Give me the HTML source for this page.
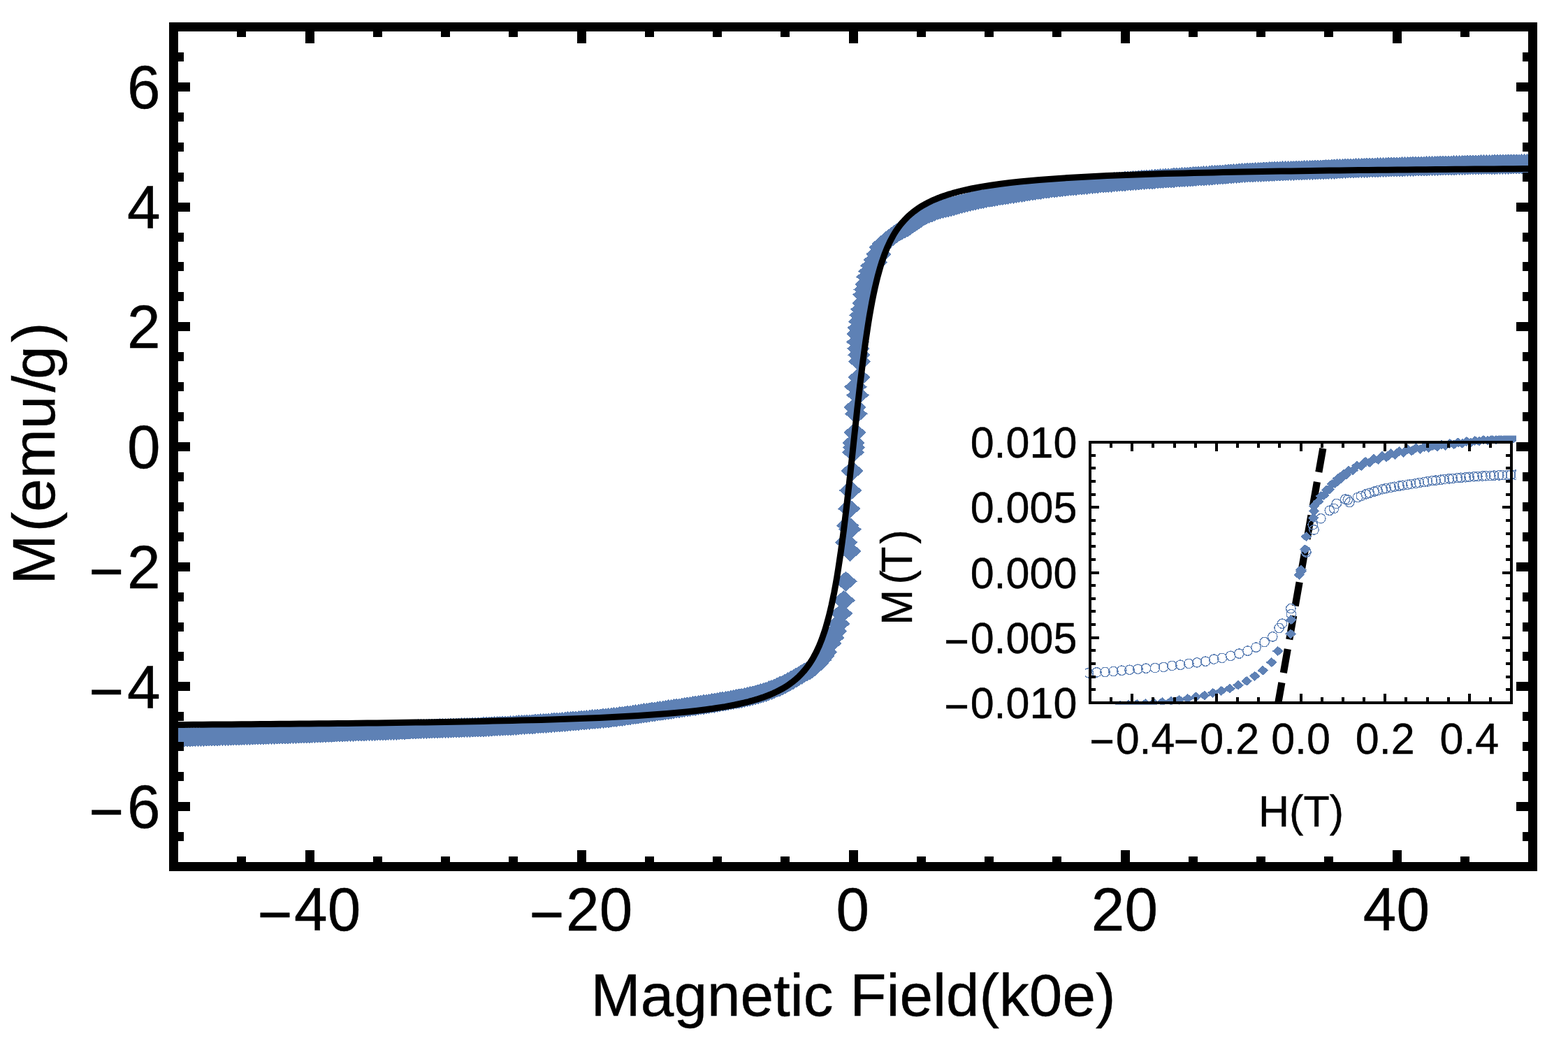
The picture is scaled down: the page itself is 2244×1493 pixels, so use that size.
<!DOCTYPE html>
<html lang="en"><head><meta charset="utf-8"><title>M(emu/g) vs Magnetic Field(k0e)</title>
<style>html,body{margin:0;padding:0;background:#fff}svg{display:block}text{font-family:"Liberation Sans",sans-serif;fill:#000}</style></head>
<body>
<svg width="2244" height="1493" viewBox="0 0 2244 1493">
<rect x="0" y="0" width="2244" height="1493" fill="#fff"/>
<defs>
<clipPath id="cm"><rect x="248.5" y="38.5" width="1945" height="1202"/></clipPath>
<clipPath id="ci"><rect x="1553" y="623.4" width="617" height="385.3"/></clipPath>
<clipPath id="cd"><rect x="1558" y="631" width="607" height="377"/></clipPath>
</defs>
<g clip-path="url(#cm)"><path fill="#5E81B5" shape-rendering="crispEdges" d="M232.2 1055.3l16.3 -14.5 16.3 14.5 -16.3 14.5zM236.1 1055.3l16.3 -14.5 16.3 14.5 -16.3 14.5zM240.0 1055.2l16.3 -14.5 16.3 14.5 -16.3 14.5zM243.9 1055.1l16.3 -14.5 16.3 14.5 -16.3 14.5zM247.8 1055.0l16.3 -14.5 16.3 14.5 -16.3 14.5zM251.6 1054.9l16.3 -14.5 16.3 14.5 -16.3 14.5zM255.5 1054.8l16.3 -14.5 16.3 14.5 -16.3 14.5zM259.4 1054.7l16.3 -14.5 16.3 14.5 -16.3 14.5zM263.3 1054.6l16.3 -14.5 16.3 14.5 -16.3 14.5zM267.2 1054.5l16.3 -14.5 16.3 14.5 -16.3 14.5zM271.1 1054.4l16.3 -14.5 16.3 14.5 -16.3 14.5zM275.0 1054.3l16.3 -14.5 16.3 14.5 -16.3 14.5zM278.9 1054.2l16.3 -14.5 16.3 14.5 -16.3 14.5zM282.8 1054.1l16.3 -14.5 16.3 14.5 -16.3 14.5zM286.7 1054.0l16.3 -14.5 16.3 14.5 -16.3 14.5zM290.5 1053.9l16.3 -14.5 16.3 14.5 -16.3 14.5zM294.4 1053.8l16.3 -14.5 16.3 14.5 -16.3 14.5zM298.3 1053.7l16.3 -14.5 16.3 14.5 -16.3 14.5zM302.2 1053.5l16.3 -14.5 16.3 14.5 -16.3 14.5zM306.1 1053.4l16.3 -14.5 16.3 14.5 -16.3 14.5zM310.0 1053.3l16.3 -14.5 16.3 14.5 -16.3 14.5zM313.9 1053.2l16.3 -14.5 16.3 14.5 -16.3 14.5zM317.8 1053.1l16.3 -14.5 16.3 14.5 -16.3 14.5zM321.7 1053.0l16.3 -14.5 16.3 14.5 -16.3 14.5zM325.6 1052.8l16.3 -14.5 16.3 14.5 -16.3 14.5zM329.4 1052.7l16.3 -14.5 16.3 14.5 -16.3 14.5zM333.3 1052.6l16.3 -14.5 16.3 14.5 -16.3 14.5zM337.2 1052.5l16.3 -14.5 16.3 14.5 -16.3 14.5zM341.1 1052.4l16.3 -14.5 16.3 14.5 -16.3 14.5zM345.0 1052.2l16.3 -14.5 16.3 14.5 -16.3 14.5zM348.9 1052.1l16.3 -14.5 16.3 14.5 -16.3 14.5zM352.8 1052.0l16.3 -14.5 16.3 14.5 -16.3 14.5zM356.7 1051.9l16.3 -14.5 16.3 14.5 -16.3 14.5zM360.6 1051.7l16.3 -14.5 16.3 14.5 -16.3 14.5zM364.5 1051.6l16.3 -14.5 16.3 14.5 -16.3 14.5zM368.3 1051.5l16.3 -14.5 16.3 14.5 -16.3 14.5zM372.2 1051.4l16.3 -14.5 16.3 14.5 -16.3 14.5zM376.1 1051.2l16.3 -14.5 16.3 14.5 -16.3 14.5zM380.0 1051.1l16.3 -14.5 16.3 14.5 -16.3 14.5zM383.9 1051.0l16.3 -14.5 16.3 14.5 -16.3 14.5zM387.8 1050.8l16.3 -14.5 16.3 14.5 -16.3 14.5zM391.7 1050.7l16.3 -14.5 16.3 14.5 -16.3 14.5zM395.6 1050.6l16.3 -14.5 16.3 14.5 -16.3 14.5zM399.5 1050.5l16.3 -14.5 16.3 14.5 -16.3 14.5zM403.4 1050.3l16.3 -14.5 16.3 14.5 -16.3 14.5zM407.2 1050.2l16.3 -14.5 16.3 14.5 -16.3 14.5zM411.1 1050.1l16.3 -14.5 16.3 14.5 -16.3 14.5zM415.0 1049.9l16.3 -14.5 16.3 14.5 -16.3 14.5zM418.9 1049.8l16.3 -14.5 16.3 14.5 -16.3 14.5zM422.8 1049.7l16.3 -14.5 16.3 14.5 -16.3 14.5zM426.7 1049.5l16.3 -14.5 16.3 14.5 -16.3 14.5zM430.6 1049.4l16.3 -14.5 16.3 14.5 -16.3 14.5zM434.5 1049.3l16.3 -14.5 16.3 14.5 -16.3 14.5zM438.4 1049.1l16.3 -14.5 16.3 14.5 -16.3 14.5zM442.3 1049.0l16.3 -14.5 16.3 14.5 -16.3 14.5zM446.1 1048.9l16.3 -14.5 16.3 14.5 -16.3 14.5zM450.0 1048.8l16.3 -14.5 16.3 14.5 -16.3 14.5zM453.9 1048.6l16.3 -14.5 16.3 14.5 -16.3 14.5zM457.8 1048.5l16.3 -14.5 16.3 14.5 -16.3 14.5zM461.7 1048.4l16.3 -14.5 16.3 14.5 -16.3 14.5zM465.6 1048.2l16.3 -14.5 16.3 14.5 -16.3 14.5zM469.5 1048.1l16.3 -14.5 16.3 14.5 -16.3 14.5zM473.4 1047.9l16.3 -14.5 16.3 14.5 -16.3 14.5zM477.3 1047.8l16.3 -14.5 16.3 14.5 -16.3 14.5zM481.2 1047.7l16.3 -14.5 16.3 14.5 -16.3 14.5zM485.0 1047.5l16.3 -14.5 16.3 14.5 -16.3 14.5zM488.9 1047.4l16.3 -14.5 16.3 14.5 -16.3 14.5zM492.8 1047.2l16.3 -14.5 16.3 14.5 -16.3 14.5zM496.7 1047.1l16.3 -14.5 16.3 14.5 -16.3 14.5zM500.6 1046.9l16.3 -14.5 16.3 14.5 -16.3 14.5zM504.5 1046.8l16.3 -14.5 16.3 14.5 -16.3 14.5zM508.4 1046.6l16.3 -14.5 16.3 14.5 -16.3 14.5zM512.3 1046.5l16.3 -14.5 16.3 14.5 -16.3 14.5zM516.2 1046.4l16.3 -14.5 16.3 14.5 -16.3 14.5zM520.1 1046.2l16.3 -14.5 16.3 14.5 -16.3 14.5zM523.9 1046.1l16.3 -14.5 16.3 14.5 -16.3 14.5zM527.8 1045.9l16.3 -14.5 16.3 14.5 -16.3 14.5zM531.7 1045.8l16.3 -14.5 16.3 14.5 -16.3 14.5zM535.6 1045.6l16.3 -14.5 16.3 14.5 -16.3 14.5zM539.5 1045.5l16.3 -14.5 16.3 14.5 -16.3 14.5zM543.4 1045.3l16.3 -14.5 16.3 14.5 -16.3 14.5zM547.3 1045.2l16.3 -14.5 16.3 14.5 -16.3 14.5zM551.2 1045.0l16.3 -14.5 16.3 14.5 -16.3 14.5zM555.1 1044.9l16.3 -14.5 16.3 14.5 -16.3 14.5zM559.0 1044.7l16.3 -14.5 16.3 14.5 -16.3 14.5zM562.8 1044.6l16.3 -14.5 16.3 14.5 -16.3 14.5zM566.7 1044.4l16.3 -14.5 16.3 14.5 -16.3 14.5zM570.6 1044.3l16.3 -14.5 16.3 14.5 -16.3 14.5zM574.5 1044.1l16.3 -14.5 16.3 14.5 -16.3 14.5zM578.4 1044.0l16.3 -14.5 16.3 14.5 -16.3 14.5zM582.3 1043.8l16.3 -14.5 16.3 14.5 -16.3 14.5zM586.2 1043.7l16.3 -14.5 16.3 14.5 -16.3 14.5zM590.1 1043.5l16.3 -14.5 16.3 14.5 -16.3 14.5zM594.0 1043.4l16.3 -14.5 16.3 14.5 -16.3 14.5zM597.9 1043.2l16.3 -14.5 16.3 14.5 -16.3 14.5zM601.7 1043.1l16.3 -14.5 16.3 14.5 -16.3 14.5zM605.6 1042.9l16.3 -14.5 16.3 14.5 -16.3 14.5zM609.5 1042.8l16.3 -14.5 16.3 14.5 -16.3 14.5zM613.4 1042.7l16.3 -14.5 16.3 14.5 -16.3 14.5zM617.3 1042.5l16.3 -14.5 16.3 14.5 -16.3 14.5zM621.2 1042.4l16.3 -14.5 16.3 14.5 -16.3 14.5zM625.1 1042.3l16.3 -14.5 16.3 14.5 -16.3 14.5zM629.0 1042.1l16.3 -14.5 16.3 14.5 -16.3 14.5zM632.9 1042.0l16.3 -14.5 16.3 14.5 -16.3 14.5zM636.8 1041.9l16.3 -14.5 16.3 14.5 -16.3 14.5zM640.6 1041.7l16.3 -14.5 16.3 14.5 -16.3 14.5zM644.5 1041.6l16.3 -14.5 16.3 14.5 -16.3 14.5zM648.4 1041.5l16.3 -14.5 16.3 14.5 -16.3 14.5zM652.3 1041.4l16.3 -14.5 16.3 14.5 -16.3 14.5zM656.2 1041.3l16.3 -14.5 16.3 14.5 -16.3 14.5zM660.1 1041.1l16.3 -14.5 16.3 14.5 -16.3 14.5zM664.0 1041.0l16.3 -14.5 16.3 14.5 -16.3 14.5zM667.9 1040.8l16.3 -14.5 16.3 14.5 -16.3 14.5zM671.8 1040.7l16.3 -14.5 16.3 14.5 -16.3 14.5zM675.7 1040.5l16.3 -14.5 16.3 14.5 -16.3 14.5zM679.5 1040.3l16.3 -14.5 16.3 14.5 -16.3 14.5zM683.4 1040.2l16.3 -14.5 16.3 14.5 -16.3 14.5zM687.3 1040.0l16.3 -14.5 16.3 14.5 -16.3 14.5zM691.2 1039.8l16.3 -14.5 16.3 14.5 -16.3 14.5zM695.1 1039.6l16.3 -14.5 16.3 14.5 -16.3 14.5zM699.0 1039.4l16.3 -14.5 16.3 14.5 -16.3 14.5zM702.9 1039.2l16.3 -14.5 16.3 14.5 -16.3 14.5zM706.8 1039.0l16.3 -14.5 16.3 14.5 -16.3 14.5zM710.7 1038.8l16.3 -14.5 16.3 14.5 -16.3 14.5zM714.6 1038.6l16.3 -14.5 16.3 14.5 -16.3 14.5zM718.4 1038.3l16.3 -14.5 16.3 14.5 -16.3 14.5zM722.3 1038.1l16.3 -14.5 16.3 14.5 -16.3 14.5zM726.2 1037.9l16.3 -14.5 16.3 14.5 -16.3 14.5zM730.1 1037.6l16.3 -14.5 16.3 14.5 -16.3 14.5zM734.0 1037.4l16.3 -14.5 16.3 14.5 -16.3 14.5zM737.9 1037.1l16.3 -14.5 16.3 14.5 -16.3 14.5zM741.8 1036.9l16.3 -14.5 16.3 14.5 -16.3 14.5zM745.7 1036.6l16.3 -14.5 16.3 14.5 -16.3 14.5zM749.6 1036.4l16.3 -14.5 16.3 14.5 -16.3 14.5zM753.5 1036.1l16.3 -14.5 16.3 14.5 -16.3 14.5zM757.3 1035.8l16.3 -14.5 16.3 14.5 -16.3 14.5zM761.2 1035.6l16.3 -14.5 16.3 14.5 -16.3 14.5zM765.1 1035.3l16.3 -14.5 16.3 14.5 -16.3 14.5zM769.0 1035.0l16.3 -14.5 16.3 14.5 -16.3 14.5zM772.9 1034.7l16.3 -14.5 16.3 14.5 -16.3 14.5zM776.8 1034.4l16.3 -14.5 16.3 14.5 -16.3 14.5zM780.7 1034.1l16.3 -14.5 16.3 14.5 -16.3 14.5zM784.6 1033.8l16.3 -14.5 16.3 14.5 -16.3 14.5zM788.5 1033.5l16.3 -14.5 16.3 14.5 -16.3 14.5zM792.4 1033.2l16.3 -14.5 16.3 14.5 -16.3 14.5zM796.2 1032.9l16.3 -14.5 16.3 14.5 -16.3 14.5zM800.1 1032.5l16.3 -14.5 16.3 14.5 -16.3 14.5zM804.0 1032.2l16.3 -14.5 16.3 14.5 -16.3 14.5zM807.9 1031.9l16.3 -14.5 16.3 14.5 -16.3 14.5zM811.8 1031.6l16.3 -14.5 16.3 14.5 -16.3 14.5zM815.7 1031.2l16.3 -14.5 16.3 14.5 -16.3 14.5zM819.6 1030.9l16.3 -14.5 16.3 14.5 -16.3 14.5zM823.5 1030.5l16.3 -14.5 16.3 14.5 -16.3 14.5zM827.4 1030.2l16.3 -14.5 16.3 14.5 -16.3 14.5zM831.3 1029.8l16.3 -14.5 16.3 14.5 -16.3 14.5zM835.1 1029.5l16.3 -14.5 16.3 14.5 -16.3 14.5zM839.0 1029.1l16.3 -14.5 16.3 14.5 -16.3 14.5zM842.9 1028.8l16.3 -14.5 16.3 14.5 -16.3 14.5zM846.8 1028.4l16.3 -14.5 16.3 14.5 -16.3 14.5zM850.7 1028.0l16.3 -14.5 16.3 14.5 -16.3 14.5zM854.6 1027.6l16.3 -14.5 16.3 14.5 -16.3 14.5zM858.5 1027.2l16.3 -14.5 16.3 14.5 -16.3 14.5zM862.4 1026.7l16.3 -14.5 16.3 14.5 -16.3 14.5zM866.3 1026.3l16.3 -14.5 16.3 14.5 -16.3 14.5zM870.2 1025.8l16.3 -14.5 16.3 14.5 -16.3 14.5zM874.0 1025.3l16.3 -14.5 16.3 14.5 -16.3 14.5zM877.9 1024.8l16.3 -14.5 16.3 14.5 -16.3 14.5zM881.8 1024.3l16.3 -14.5 16.3 14.5 -16.3 14.5zM885.7 1023.7l16.3 -14.5 16.3 14.5 -16.3 14.5zM889.6 1023.2l16.3 -14.5 16.3 14.5 -16.3 14.5zM893.5 1022.6l16.3 -14.5 16.3 14.5 -16.3 14.5zM897.4 1022.1l16.3 -14.5 16.3 14.5 -16.3 14.5zM901.3 1021.5l16.3 -14.5 16.3 14.5 -16.3 14.5zM905.2 1020.9l16.3 -14.5 16.3 14.5 -16.3 14.5zM909.1 1020.4l16.3 -14.5 16.3 14.5 -16.3 14.5zM912.9 1019.8l16.3 -14.5 16.3 14.5 -16.3 14.5zM916.8 1019.3l16.3 -14.5 16.3 14.5 -16.3 14.5zM920.7 1018.7l16.3 -14.5 16.3 14.5 -16.3 14.5zM924.6 1018.2l16.3 -14.5 16.3 14.5 -16.3 14.5zM928.5 1017.6l16.3 -14.5 16.3 14.5 -16.3 14.5zM932.4 1017.1l16.3 -14.5 16.3 14.5 -16.3 14.5zM936.3 1016.5l16.3 -14.5 16.3 14.5 -16.3 14.5zM940.2 1015.9l16.3 -14.5 16.3 14.5 -16.3 14.5zM944.1 1015.4l16.3 -14.5 16.3 14.5 -16.3 14.5zM948.0 1014.8l16.3 -14.5 16.3 14.5 -16.3 14.5zM951.8 1014.2l16.3 -14.5 16.3 14.5 -16.3 14.5zM955.7 1013.7l16.3 -14.5 16.3 14.5 -16.3 14.5zM959.6 1013.1l16.3 -14.5 16.3 14.5 -16.3 14.5zM963.5 1012.5l16.3 -14.5 16.3 14.5 -16.3 14.5zM967.4 1011.9l16.3 -14.5 16.3 14.5 -16.3 14.5zM971.3 1011.4l16.3 -14.5 16.3 14.5 -16.3 14.5zM975.2 1010.8l16.3 -14.5 16.3 14.5 -16.3 14.5zM979.1 1010.2l16.3 -14.5 16.3 14.5 -16.3 14.5zM983.0 1009.7l16.3 -14.5 16.3 14.5 -16.3 14.5zM986.9 1009.1l16.3 -14.5 16.3 14.5 -16.3 14.5zM990.7 1008.5l16.3 -14.5 16.3 14.5 -16.3 14.5zM994.6 1008.0l16.3 -14.5 16.3 14.5 -16.3 14.5zM998.5 1007.4l16.3 -14.5 16.3 14.5 -16.3 14.5zM1002.4 1006.7l16.3 -14.5 16.3 14.5 -16.3 14.5zM1006.3 1006.1l16.3 -14.5 16.3 14.5 -16.3 14.5zM1010.2 1005.4l16.3 -14.5 16.3 14.5 -16.3 14.5zM1014.1 1004.8l16.3 -14.5 16.3 14.5 -16.3 14.5zM1018.0 1004.1l16.3 -14.5 16.3 14.5 -16.3 14.5zM1021.9 1003.5l16.3 -14.5 16.3 14.5 -16.3 14.5zM1025.8 1002.8l16.3 -14.5 16.3 14.5 -16.3 14.5zM1029.6 1002.1l16.3 -14.5 16.3 14.5 -16.3 14.5zM1033.5 1001.4l16.3 -14.5 16.3 14.5 -16.3 14.5zM1037.4 1000.7l16.3 -14.5 16.3 14.5 -16.3 14.5zM1041.3 1000.0l16.3 -14.5 16.3 14.5 -16.3 14.5zM1045.2 999.2l16.3 -14.5 16.3 14.5 -16.3 14.5zM1049.1 998.4l16.3 -14.5 16.3 14.5 -16.3 14.5zM1053.0 997.5l16.3 -14.5 16.3 14.5 -16.3 14.5zM1056.9 996.7l16.3 -14.5 16.3 14.5 -16.3 14.5zM1060.8 995.7l16.3 -14.5 16.3 14.5 -16.3 14.5zM1064.7 994.8l16.3 -14.5 16.3 14.5 -16.3 14.5zM1068.5 993.8l16.3 -14.5 16.3 14.5 -16.3 14.5zM1072.4 992.7l16.3 -14.5 16.3 14.5 -16.3 14.5zM1076.3 991.5l16.3 -14.5 16.3 14.5 -16.3 14.5zM1080.2 990.2l16.3 -14.5 16.3 14.5 -16.3 14.5zM1084.1 988.8l16.3 -14.5 16.3 14.5 -16.3 14.5zM1088.0 987.3l16.3 -14.5 16.3 14.5 -16.3 14.5zM1091.9 985.8l16.3 -14.5 16.3 14.5 -16.3 14.5zM1095.8 984.2l16.3 -14.5 16.3 14.5 -16.3 14.5zM1099.7 982.5l16.3 -14.5 16.3 14.5 -16.3 14.5zM1103.6 980.8l16.3 -14.5 16.3 14.5 -16.3 14.5zM1107.4 978.9l16.3 -14.5 16.3 14.5 -16.3 14.5zM1111.3 976.8l16.3 -14.5 16.3 14.5 -16.3 14.5zM1115.2 974.7l16.3 -14.5 16.3 14.5 -16.3 14.5zM1119.1 972.4l16.3 -14.5 16.3 14.5 -16.3 14.5zM1123.0 970.1l16.3 -14.5 16.3 14.5 -16.3 14.5zM1126.9 967.8l16.3 -14.5 16.3 14.5 -16.3 14.5zM1130.8 965.5l16.3 -14.5 16.3 14.5 -16.3 14.5zM1134.7 963.2l16.3 -14.5 16.3 14.5 -16.3 14.5zM1138.6 961.0l16.3 -14.5 16.3 14.5 -16.3 14.5zM1142.5 958.8l16.3 -14.5 16.3 14.5 -16.3 14.5zM1146.3 956.3l16.3 -14.5 16.3 14.5 -16.3 14.5zM1150.2 953.1l16.3 -14.5 16.3 14.5 -16.3 14.5zM1154.1 949.2l16.3 -14.5 16.3 14.5 -16.3 14.5zM1158.0 944.6l16.3 -14.5 16.3 14.5 -16.3 14.5zM1161.9 939.3l16.3 -14.5 16.3 14.5 -16.3 14.5zM1165.8 933.4l16.3 -14.5 16.3 14.5 -16.3 14.5zM1171.9 921.0l16.3 -14.5 16.3 14.5 -16.3 14.5zM1175.9 912.9l16.3 -14.5 16.3 14.5 -16.3 14.5zM1179.9 903.6l16.3 -14.5 16.3 14.5 -16.3 14.5zM1183.9 892.9l16.3 -14.5 16.3 14.5 -16.3 14.5zM1187.9 878.1l16.3 -14.5 16.3 14.5 -16.3 14.5zM1191.3 859.4l16.3 -14.5 16.3 14.5 -16.3 14.5zM1194.2 832.3l16.3 -14.5 16.3 14.5 -16.3 14.5zM1200.2 789.1l16.3 -14.5 16.3 14.5 -16.3 14.5zM1194.9 776.3l16.3 -14.5 16.3 14.5 -16.3 14.5zM1200.2 757.6l16.3 -14.5 16.3 14.5 -16.3 14.5zM1196.9 752.2l16.3 -14.5 16.3 14.5 -16.3 14.5zM1198.9 728.1l16.3 -14.5 16.3 14.5 -16.3 14.5zM1200.9 702.0l16.3 -14.5 16.3 14.5 -16.3 14.5zM1203.2 674.1l16.3 -14.5 16.3 14.5 -16.3 14.5zM1204.7 647.3l16.3 -14.5 16.3 14.5 -16.3 14.5zM1205.6 640.6l16.3 -14.5 16.3 14.5 -16.3 14.5zM1205.2 633.9l16.3 -14.5 16.3 14.5 -16.3 14.5zM1207.2 619.2l16.3 -14.5 16.3 14.5 -16.3 14.5zM1209.1 592.4l16.3 -14.5 16.3 14.5 -16.3 14.5zM1207.2 583.0l16.3 -14.5 16.3 14.5 -16.3 14.5zM1211.2 565.6l16.3 -14.5 16.3 14.5 -16.3 14.5zM1208.1 553.6l16.3 -14.5 16.3 14.5 -16.3 14.5zM1213.2 540.2l16.3 -14.5 16.3 14.5 -16.3 14.5zM1213.9 517.4l16.3 -14.5 16.3 14.5 -16.3 14.5zM1211.2 489.5l16.3 -14.5 16.3 14.5 -16.3 14.5zM1211.2 478.1l16.3 -14.5 16.3 14.5 -16.3 14.5zM1215.2 451.3l16.3 -14.5 16.3 14.5 -16.3 14.5zM1219.2 433.9l16.3 -14.5 16.3 14.5 -16.3 14.5zM1219.9 421.9l16.3 -14.5 16.3 14.5 -16.3 14.5zM1223.2 407.1l16.3 -14.5 16.3 14.5 -16.3 14.5zM1225.2 396.4l16.3 -14.5 16.3 14.5 -16.3 14.5zM1231.2 380.4l16.3 -14.5 16.3 14.5 -16.3 14.5zM1235.3 372.3l16.3 -14.5 16.3 14.5 -16.3 14.5zM1239.3 364.3l16.3 -14.5 16.3 14.5 -16.3 14.5zM1239.7 363.2l16.3 -14.5 16.3 14.5 -16.3 14.5zM1243.6 354.1l16.3 -14.5 16.3 14.5 -16.3 14.5zM1247.5 349.1l16.3 -14.5 16.3 14.5 -16.3 14.5zM1251.4 345.6l16.3 -14.5 16.3 14.5 -16.3 14.5zM1255.3 342.7l16.3 -14.5 16.3 14.5 -16.3 14.5zM1259.2 339.7l16.3 -14.5 16.3 14.5 -16.3 14.5zM1263.0 336.7l16.3 -14.5 16.3 14.5 -16.3 14.5zM1266.9 333.9l16.3 -14.5 16.3 14.5 -16.3 14.5zM1270.8 331.2l16.3 -14.5 16.3 14.5 -16.3 14.5zM1274.7 328.9l16.3 -14.5 16.3 14.5 -16.3 14.5zM1278.6 326.8l16.3 -14.5 16.3 14.5 -16.3 14.5zM1282.5 324.7l16.3 -14.5 16.3 14.5 -16.3 14.5zM1286.4 322.4l16.3 -14.5 16.3 14.5 -16.3 14.5zM1290.3 319.7l16.3 -14.5 16.3 14.5 -16.3 14.5zM1294.2 316.8l16.3 -14.5 16.3 14.5 -16.3 14.5zM1298.1 314.0l16.3 -14.5 16.3 14.5 -16.3 14.5zM1301.9 311.4l16.3 -14.5 16.3 14.5 -16.3 14.5zM1305.8 309.2l16.3 -14.5 16.3 14.5 -16.3 14.5zM1309.7 307.2l16.3 -14.5 16.3 14.5 -16.3 14.5zM1313.6 305.4l16.3 -14.5 16.3 14.5 -16.3 14.5zM1317.5 303.7l16.3 -14.5 16.3 14.5 -16.3 14.5zM1321.4 302.2l16.3 -14.5 16.3 14.5 -16.3 14.5zM1325.3 300.8l16.3 -14.5 16.3 14.5 -16.3 14.5zM1329.2 299.6l16.3 -14.5 16.3 14.5 -16.3 14.5zM1333.1 298.6l16.3 -14.5 16.3 14.5 -16.3 14.5zM1337.0 297.6l16.3 -14.5 16.3 14.5 -16.3 14.5zM1340.8 296.6l16.3 -14.5 16.3 14.5 -16.3 14.5zM1344.7 295.6l16.3 -14.5 16.3 14.5 -16.3 14.5zM1348.6 294.6l16.3 -14.5 16.3 14.5 -16.3 14.5zM1352.5 293.6l16.3 -14.5 16.3 14.5 -16.3 14.5zM1356.4 292.5l16.3 -14.5 16.3 14.5 -16.3 14.5zM1360.3 291.5l16.3 -14.5 16.3 14.5 -16.3 14.5zM1364.2 290.4l16.3 -14.5 16.3 14.5 -16.3 14.5zM1368.1 289.4l16.3 -14.5 16.3 14.5 -16.3 14.5zM1372.0 288.4l16.3 -14.5 16.3 14.5 -16.3 14.5zM1375.9 287.5l16.3 -14.5 16.3 14.5 -16.3 14.5zM1379.7 286.6l16.3 -14.5 16.3 14.5 -16.3 14.5zM1383.6 285.7l16.3 -14.5 16.3 14.5 -16.3 14.5zM1387.5 284.9l16.3 -14.5 16.3 14.5 -16.3 14.5zM1391.4 284.2l16.3 -14.5 16.3 14.5 -16.3 14.5zM1395.3 283.5l16.3 -14.5 16.3 14.5 -16.3 14.5zM1399.2 282.8l16.3 -14.5 16.3 14.5 -16.3 14.5zM1403.1 282.1l16.3 -14.5 16.3 14.5 -16.3 14.5zM1407.0 281.4l16.3 -14.5 16.3 14.5 -16.3 14.5zM1410.9 280.8l16.3 -14.5 16.3 14.5 -16.3 14.5zM1414.8 280.2l16.3 -14.5 16.3 14.5 -16.3 14.5zM1418.6 279.5l16.3 -14.5 16.3 14.5 -16.3 14.5zM1422.5 278.9l16.3 -14.5 16.3 14.5 -16.3 14.5zM1426.4 278.3l16.3 -14.5 16.3 14.5 -16.3 14.5zM1430.3 277.7l16.3 -14.5 16.3 14.5 -16.3 14.5zM1434.2 277.1l16.3 -14.5 16.3 14.5 -16.3 14.5zM1438.1 276.5l16.3 -14.5 16.3 14.5 -16.3 14.5zM1442.0 275.9l16.3 -14.5 16.3 14.5 -16.3 14.5zM1445.9 275.3l16.3 -14.5 16.3 14.5 -16.3 14.5zM1449.8 274.7l16.3 -14.5 16.3 14.5 -16.3 14.5zM1453.7 274.1l16.3 -14.5 16.3 14.5 -16.3 14.5zM1457.5 273.5l16.3 -14.5 16.3 14.5 -16.3 14.5zM1461.4 272.9l16.3 -14.5 16.3 14.5 -16.3 14.5zM1465.3 272.4l16.3 -14.5 16.3 14.5 -16.3 14.5zM1469.2 271.8l16.3 -14.5 16.3 14.5 -16.3 14.5zM1473.1 271.3l16.3 -14.5 16.3 14.5 -16.3 14.5zM1477.0 270.7l16.3 -14.5 16.3 14.5 -16.3 14.5zM1480.9 270.2l16.3 -14.5 16.3 14.5 -16.3 14.5zM1484.8 269.7l16.3 -14.5 16.3 14.5 -16.3 14.5zM1488.7 269.2l16.3 -14.5 16.3 14.5 -16.3 14.5zM1492.6 268.8l16.3 -14.5 16.3 14.5 -16.3 14.5zM1496.4 268.3l16.3 -14.5 16.3 14.5 -16.3 14.5zM1500.3 267.9l16.3 -14.5 16.3 14.5 -16.3 14.5zM1504.2 267.5l16.3 -14.5 16.3 14.5 -16.3 14.5zM1508.1 267.1l16.3 -14.5 16.3 14.5 -16.3 14.5zM1512.0 266.6l16.3 -14.5 16.3 14.5 -16.3 14.5zM1515.9 266.2l16.3 -14.5 16.3 14.5 -16.3 14.5zM1519.8 265.9l16.3 -14.5 16.3 14.5 -16.3 14.5zM1523.7 265.5l16.3 -14.5 16.3 14.5 -16.3 14.5zM1527.6 265.1l16.3 -14.5 16.3 14.5 -16.3 14.5zM1531.5 264.7l16.3 -14.5 16.3 14.5 -16.3 14.5zM1535.3 264.4l16.3 -14.5 16.3 14.5 -16.3 14.5zM1539.2 264.0l16.3 -14.5 16.3 14.5 -16.3 14.5zM1543.1 263.7l16.3 -14.5 16.3 14.5 -16.3 14.5zM1547.0 263.3l16.3 -14.5 16.3 14.5 -16.3 14.5zM1550.9 263.0l16.3 -14.5 16.3 14.5 -16.3 14.5zM1554.8 262.6l16.3 -14.5 16.3 14.5 -16.3 14.5zM1558.7 262.3l16.3 -14.5 16.3 14.5 -16.3 14.5zM1562.6 262.0l16.3 -14.5 16.3 14.5 -16.3 14.5zM1566.5 261.6l16.3 -14.5 16.3 14.5 -16.3 14.5zM1570.4 261.3l16.3 -14.5 16.3 14.5 -16.3 14.5zM1574.2 261.0l16.3 -14.5 16.3 14.5 -16.3 14.5zM1578.1 260.7l16.3 -14.5 16.3 14.5 -16.3 14.5zM1582.0 260.4l16.3 -14.5 16.3 14.5 -16.3 14.5zM1585.9 260.1l16.3 -14.5 16.3 14.5 -16.3 14.5zM1589.8 259.8l16.3 -14.5 16.3 14.5 -16.3 14.5zM1593.7 259.5l16.3 -14.5 16.3 14.5 -16.3 14.5zM1597.6 259.2l16.3 -14.5 16.3 14.5 -16.3 14.5zM1601.5 258.9l16.3 -14.5 16.3 14.5 -16.3 14.5zM1605.4 258.6l16.3 -14.5 16.3 14.5 -16.3 14.5zM1609.3 258.3l16.3 -14.5 16.3 14.5 -16.3 14.5zM1613.1 258.0l16.3 -14.5 16.3 14.5 -16.3 14.5zM1617.0 257.7l16.3 -14.5 16.3 14.5 -16.3 14.5zM1620.9 257.4l16.3 -14.5 16.3 14.5 -16.3 14.5zM1624.8 257.1l16.3 -14.5 16.3 14.5 -16.3 14.5zM1628.7 256.8l16.3 -14.5 16.3 14.5 -16.3 14.5zM1632.6 256.6l16.3 -14.5 16.3 14.5 -16.3 14.5zM1636.5 256.3l16.3 -14.5 16.3 14.5 -16.3 14.5zM1640.4 256.0l16.3 -14.5 16.3 14.5 -16.3 14.5zM1644.3 255.8l16.3 -14.5 16.3 14.5 -16.3 14.5zM1648.2 255.5l16.3 -14.5 16.3 14.5 -16.3 14.5zM1652.0 255.2l16.3 -14.5 16.3 14.5 -16.3 14.5zM1655.9 255.0l16.3 -14.5 16.3 14.5 -16.3 14.5zM1659.8 254.7l16.3 -14.5 16.3 14.5 -16.3 14.5zM1663.7 254.5l16.3 -14.5 16.3 14.5 -16.3 14.5zM1667.6 254.2l16.3 -14.5 16.3 14.5 -16.3 14.5zM1671.5 254.0l16.3 -14.5 16.3 14.5 -16.3 14.5zM1675.4 253.7l16.3 -14.5 16.3 14.5 -16.3 14.5zM1679.3 253.5l16.3 -14.5 16.3 14.5 -16.3 14.5zM1683.2 253.2l16.3 -14.5 16.3 14.5 -16.3 14.5zM1687.1 253.0l16.3 -14.5 16.3 14.5 -16.3 14.5zM1690.9 252.7l16.3 -14.5 16.3 14.5 -16.3 14.5zM1694.8 252.5l16.3 -14.5 16.3 14.5 -16.3 14.5zM1698.7 252.2l16.3 -14.5 16.3 14.5 -16.3 14.5zM1702.6 252.0l16.3 -14.5 16.3 14.5 -16.3 14.5zM1706.5 251.7l16.3 -14.5 16.3 14.5 -16.3 14.5zM1710.4 251.4l16.3 -14.5 16.3 14.5 -16.3 14.5zM1714.3 251.2l16.3 -14.5 16.3 14.5 -16.3 14.5zM1718.2 250.9l16.3 -14.5 16.3 14.5 -16.3 14.5zM1722.1 250.6l16.3 -14.5 16.3 14.5 -16.3 14.5zM1726.0 250.4l16.3 -14.5 16.3 14.5 -16.3 14.5zM1729.8 250.1l16.3 -14.5 16.3 14.5 -16.3 14.5zM1733.7 249.8l16.3 -14.5 16.3 14.5 -16.3 14.5zM1737.6 249.5l16.3 -14.5 16.3 14.5 -16.3 14.5zM1741.5 249.2l16.3 -14.5 16.3 14.5 -16.3 14.5zM1745.4 248.9l16.3 -14.5 16.3 14.5 -16.3 14.5zM1749.3 248.6l16.3 -14.5 16.3 14.5 -16.3 14.5zM1753.2 248.3l16.3 -14.5 16.3 14.5 -16.3 14.5zM1757.1 248.0l16.3 -14.5 16.3 14.5 -16.3 14.5zM1761.0 247.7l16.3 -14.5 16.3 14.5 -16.3 14.5zM1764.9 247.5l16.3 -14.5 16.3 14.5 -16.3 14.5zM1768.7 247.2l16.3 -14.5 16.3 14.5 -16.3 14.5zM1772.6 247.0l16.3 -14.5 16.3 14.5 -16.3 14.5zM1776.5 246.8l16.3 -14.5 16.3 14.5 -16.3 14.5zM1780.4 246.6l16.3 -14.5 16.3 14.5 -16.3 14.5zM1784.3 246.4l16.3 -14.5 16.3 14.5 -16.3 14.5zM1788.2 246.2l16.3 -14.5 16.3 14.5 -16.3 14.5zM1792.1 246.0l16.3 -14.5 16.3 14.5 -16.3 14.5zM1796.0 245.9l16.3 -14.5 16.3 14.5 -16.3 14.5zM1799.9 245.7l16.3 -14.5 16.3 14.5 -16.3 14.5zM1803.8 245.5l16.3 -14.5 16.3 14.5 -16.3 14.5zM1807.6 245.4l16.3 -14.5 16.3 14.5 -16.3 14.5zM1811.5 245.2l16.3 -14.5 16.3 14.5 -16.3 14.5zM1815.4 245.1l16.3 -14.5 16.3 14.5 -16.3 14.5zM1819.3 244.9l16.3 -14.5 16.3 14.5 -16.3 14.5zM1823.2 244.8l16.3 -14.5 16.3 14.5 -16.3 14.5zM1827.1 244.7l16.3 -14.5 16.3 14.5 -16.3 14.5zM1831.0 244.5l16.3 -14.5 16.3 14.5 -16.3 14.5zM1834.9 244.4l16.3 -14.5 16.3 14.5 -16.3 14.5zM1838.8 244.2l16.3 -14.5 16.3 14.5 -16.3 14.5zM1842.7 244.0l16.3 -14.5 16.3 14.5 -16.3 14.5zM1846.5 243.9l16.3 -14.5 16.3 14.5 -16.3 14.5zM1850.4 243.7l16.3 -14.5 16.3 14.5 -16.3 14.5zM1854.3 243.6l16.3 -14.5 16.3 14.5 -16.3 14.5zM1858.2 243.4l16.3 -14.5 16.3 14.5 -16.3 14.5zM1862.1 243.3l16.3 -14.5 16.3 14.5 -16.3 14.5zM1866.0 243.1l16.3 -14.5 16.3 14.5 -16.3 14.5zM1869.9 243.0l16.3 -14.5 16.3 14.5 -16.3 14.5zM1873.8 242.8l16.3 -14.5 16.3 14.5 -16.3 14.5zM1877.7 242.6l16.3 -14.5 16.3 14.5 -16.3 14.5zM1881.6 242.5l16.3 -14.5 16.3 14.5 -16.3 14.5zM1885.4 242.3l16.3 -14.5 16.3 14.5 -16.3 14.5zM1889.3 242.2l16.3 -14.5 16.3 14.5 -16.3 14.5zM1893.2 242.0l16.3 -14.5 16.3 14.5 -16.3 14.5zM1897.1 241.9l16.3 -14.5 16.3 14.5 -16.3 14.5zM1901.0 241.7l16.3 -14.5 16.3 14.5 -16.3 14.5zM1904.9 241.6l16.3 -14.5 16.3 14.5 -16.3 14.5zM1908.8 241.4l16.3 -14.5 16.3 14.5 -16.3 14.5zM1912.7 241.3l16.3 -14.5 16.3 14.5 -16.3 14.5zM1916.6 241.1l16.3 -14.5 16.3 14.5 -16.3 14.5zM1920.5 241.0l16.3 -14.5 16.3 14.5 -16.3 14.5zM1924.3 240.8l16.3 -14.5 16.3 14.5 -16.3 14.5zM1928.2 240.7l16.3 -14.5 16.3 14.5 -16.3 14.5zM1932.1 240.5l16.3 -14.5 16.3 14.5 -16.3 14.5zM1936.0 240.4l16.3 -14.5 16.3 14.5 -16.3 14.5zM1939.9 240.3l16.3 -14.5 16.3 14.5 -16.3 14.5zM1943.8 240.1l16.3 -14.5 16.3 14.5 -16.3 14.5zM1947.7 240.0l16.3 -14.5 16.3 14.5 -16.3 14.5zM1951.6 239.9l16.3 -14.5 16.3 14.5 -16.3 14.5zM1955.5 239.7l16.3 -14.5 16.3 14.5 -16.3 14.5zM1959.4 239.6l16.3 -14.5 16.3 14.5 -16.3 14.5zM1963.2 239.5l16.3 -14.5 16.3 14.5 -16.3 14.5zM1967.1 239.4l16.3 -14.5 16.3 14.5 -16.3 14.5zM1971.0 239.2l16.3 -14.5 16.3 14.5 -16.3 14.5zM1974.9 239.1l16.3 -14.5 16.3 14.5 -16.3 14.5zM1978.8 239.0l16.3 -14.5 16.3 14.5 -16.3 14.5zM1982.7 238.9l16.3 -14.5 16.3 14.5 -16.3 14.5zM1986.6 238.8l16.3 -14.5 16.3 14.5 -16.3 14.5zM1990.5 238.7l16.3 -14.5 16.3 14.5 -16.3 14.5zM1994.4 238.6l16.3 -14.5 16.3 14.5 -16.3 14.5zM1998.3 238.4l16.3 -14.5 16.3 14.5 -16.3 14.5zM2002.1 238.3l16.3 -14.5 16.3 14.5 -16.3 14.5zM2006.0 238.2l16.3 -14.5 16.3 14.5 -16.3 14.5zM2009.9 238.1l16.3 -14.5 16.3 14.5 -16.3 14.5zM2013.8 238.0l16.3 -14.5 16.3 14.5 -16.3 14.5zM2017.7 237.9l16.3 -14.5 16.3 14.5 -16.3 14.5zM2021.6 237.8l16.3 -14.5 16.3 14.5 -16.3 14.5zM2025.5 237.7l16.3 -14.5 16.3 14.5 -16.3 14.5zM2029.4 237.6l16.3 -14.5 16.3 14.5 -16.3 14.5zM2033.3 237.5l16.3 -14.5 16.3 14.5 -16.3 14.5zM2037.2 237.4l16.3 -14.5 16.3 14.5 -16.3 14.5zM2041.0 237.3l16.3 -14.5 16.3 14.5 -16.3 14.5zM2044.9 237.2l16.3 -14.5 16.3 14.5 -16.3 14.5zM2048.8 237.2l16.3 -14.5 16.3 14.5 -16.3 14.5zM2052.7 237.1l16.3 -14.5 16.3 14.5 -16.3 14.5zM2056.6 237.0l16.3 -14.5 16.3 14.5 -16.3 14.5zM2060.5 236.9l16.3 -14.5 16.3 14.5 -16.3 14.5zM2064.4 236.8l16.3 -14.5 16.3 14.5 -16.3 14.5zM2068.3 236.7l16.3 -14.5 16.3 14.5 -16.3 14.5zM2072.2 236.6l16.3 -14.5 16.3 14.5 -16.3 14.5zM2076.1 236.5l16.3 -14.5 16.3 14.5 -16.3 14.5zM2079.9 236.4l16.3 -14.5 16.3 14.5 -16.3 14.5zM2083.8 236.3l16.3 -14.5 16.3 14.5 -16.3 14.5zM2087.7 236.3l16.3 -14.5 16.3 14.5 -16.3 14.5zM2091.6 236.2l16.3 -14.5 16.3 14.5 -16.3 14.5zM2095.5 236.1l16.3 -14.5 16.3 14.5 -16.3 14.5zM2099.4 236.0l16.3 -14.5 16.3 14.5 -16.3 14.5zM2103.3 235.9l16.3 -14.5 16.3 14.5 -16.3 14.5zM2107.2 235.8l16.3 -14.5 16.3 14.5 -16.3 14.5zM2111.1 235.7l16.3 -14.5 16.3 14.5 -16.3 14.5zM2115.0 235.7l16.3 -14.5 16.3 14.5 -16.3 14.5zM2118.8 235.6l16.3 -14.5 16.3 14.5 -16.3 14.5zM2122.7 235.5l16.3 -14.5 16.3 14.5 -16.3 14.5zM2126.6 235.4l16.3 -14.5 16.3 14.5 -16.3 14.5zM2130.5 235.3l16.3 -14.5 16.3 14.5 -16.3 14.5zM2134.4 235.2l16.3 -14.5 16.3 14.5 -16.3 14.5zM2138.3 235.1l16.3 -14.5 16.3 14.5 -16.3 14.5zM2142.2 235.1l16.3 -14.5 16.3 14.5 -16.3 14.5zM2146.1 235.0l16.3 -14.5 16.3 14.5 -16.3 14.5zM2150.0 234.9l16.3 -14.5 16.3 14.5 -16.3 14.5zM2153.9 234.8l16.3 -14.5 16.3 14.5 -16.3 14.5zM2157.7 234.7l16.3 -14.5 16.3 14.5 -16.3 14.5zM2161.6 234.6l16.3 -14.5 16.3 14.5 -16.3 14.5zM2165.5 234.5l16.3 -14.5 16.3 14.5 -16.3 14.5zM2169.4 234.4l16.3 -14.5 16.3 14.5 -16.3 14.5zM2173.3 234.3l16.3 -14.5 16.3 14.5 -16.3 14.5zM2177.2 234.2l16.3 -14.5 16.3 14.5 -16.3 14.5zM1213.0 508.1l16.3 -14.5 16.3 14.5 -16.3 14.5zM1212.1 498.8l16.3 -14.5 16.3 14.5 -16.3 14.5zM1212.5 469.2l16.3 -14.5 16.3 14.5 -16.3 14.5zM1213.9 460.2l16.3 -14.5 16.3 14.5 -16.3 14.5zM1217.2 442.6l16.3 -14.5 16.3 14.5 -16.3 14.5zM1221.5 414.5l16.3 -14.5 16.3 14.5 -16.3 14.5zM1228.2 388.4l16.3 -14.5 16.3 14.5 -16.3 14.5zM1243.1 364.3l16.3 -14.5 16.3 14.5 -16.3 14.5zM1237.7 375.3l16.3 -14.5 16.3 14.5 -16.3 14.5zM1231.0 386.4l16.3 -14.5 16.3 14.5 -16.3 14.5z"/>
<path d="M248.5 1037.5 L262.3 1037.4 L276.2 1037.3 L290.0 1037.2 L303.9 1037.1 L317.7 1037.0 L331.6 1036.9 L345.4 1036.8 L359.3 1036.7 L373.1 1036.6 L387.0 1036.5 L400.8 1036.3 L414.6 1036.2 L428.5 1036.1 L442.3 1036.0 L456.2 1035.8 L470.0 1035.7 L483.9 1035.5 L497.7 1035.4 L511.6 1035.2 L525.4 1035.1 L539.3 1034.9 L553.1 1034.7 L567.0 1034.5 L580.8 1034.3 L594.6 1034.1 L608.5 1033.9 L622.3 1033.7 L636.2 1033.5 L650.0 1033.2 L663.9 1033.0 L677.7 1032.7 L691.6 1032.4 L705.4 1032.1 L719.3 1031.8 L733.1 1031.5 L746.9 1031.1 L760.8 1030.8 L774.6 1030.4 L788.5 1030.0 L802.3 1029.5 L816.2 1029.0 L830.0 1028.5 L843.9 1028.0 L857.7 1027.4 L871.6 1026.7 L885.4 1026.1 L899.3 1025.3 L913.1 1024.5 L926.9 1023.6 L940.8 1022.6 L954.6 1021.5 L968.5 1020.3 L982.3 1019.0 L996.2 1017.5 L1010.0 1015.8 L1023.9 1013.8 L1037.7 1011.6 L1051.6 1009.0 L1065.4 1005.9 L1067.3 1005.4 L1069.3 1005.0 L1071.2 1004.5 L1073.2 1003.9 L1075.1 1003.4 L1077.1 1002.9 L1079.0 1002.3 L1081.0 1001.7 L1082.9 1001.2 L1084.8 1000.6 L1086.8 999.9 L1088.7 999.3 L1090.7 998.6 L1092.6 998.0 L1094.6 997.3 L1096.5 996.5 L1098.5 995.8 L1100.4 995.0 L1102.4 994.2 L1104.3 993.4 L1106.2 992.6 L1108.2 991.7 L1110.1 990.8 L1112.1 989.8 L1114.0 988.9 L1116.0 987.8 L1117.9 986.8 L1119.9 985.7 L1121.8 984.6 L1123.8 983.4 L1125.7 982.2 L1127.6 980.9 L1129.6 979.6 L1131.5 978.2 L1133.5 976.7 L1135.4 975.2 L1137.4 973.6 L1139.3 972.0 L1141.3 970.2 L1143.2 968.4 L1145.1 966.5 L1147.1 964.4 L1149.0 962.3 L1151.0 960.1 L1152.9 957.7 L1154.9 955.2 L1156.8 952.6 L1158.8 949.7 L1160.7 946.8 L1162.7 943.6 L1164.6 940.2 L1166.5 936.6 L1168.5 932.8 L1170.4 928.7 L1172.4 924.3 L1174.3 919.6 L1176.3 914.5 L1178.2 909.1 L1180.2 903.3 L1182.1 897.0 L1184.0 890.3 L1186.0 883.0 L1187.9 875.2 L1189.9 866.8 L1191.8 857.8 L1193.8 848.1 L1195.7 837.7 L1197.7 826.5 L1199.6 814.6 L1201.5 802.0 L1203.5 788.5 L1205.4 774.3 L1207.4 759.4 L1209.3 743.7 L1211.3 727.4 L1213.2 710.6 L1215.2 693.3 L1217.1 675.5 L1219.1 657.6 L1221.0 639.5 L1222.9 621.4 L1224.9 603.5 L1226.8 585.7 L1228.8 568.4 L1230.7 551.6 L1232.7 535.3 L1234.6 519.6 L1236.6 504.7 L1238.5 490.5 L1240.5 477.0 L1242.4 464.4 L1244.3 452.5 L1246.3 441.3 L1248.2 430.9 L1250.2 421.2 L1252.1 412.2 L1254.1 403.8 L1256.0 396.0 L1258.0 388.7 L1259.9 382.0 L1261.8 375.7 L1263.8 369.9 L1265.7 364.5 L1267.7 359.4 L1269.6 354.7 L1271.6 350.3 L1273.5 346.2 L1275.5 342.4 L1277.4 338.8 L1279.3 335.4 L1281.3 332.2 L1283.2 329.3 L1285.2 326.4 L1287.1 323.8 L1289.1 321.3 L1291.0 318.9 L1293.0 316.7 L1294.9 314.6 L1296.9 312.5 L1298.8 310.6 L1300.7 308.8 L1302.7 307.0 L1304.6 305.4 L1306.6 303.8 L1308.5 302.3 L1310.5 300.8 L1312.4 299.4 L1314.4 298.1 L1316.3 296.8 L1318.2 295.6 L1320.2 294.4 L1322.1 293.3 L1324.1 292.2 L1326.0 291.2 L1328.0 290.1 L1329.9 289.2 L1331.9 288.2 L1333.8 287.3 L1335.8 286.4 L1337.7 285.6 L1339.6 284.8 L1341.6 284.0 L1343.5 283.2 L1345.5 282.5 L1347.4 281.7 L1349.4 281.0 L1351.3 280.4 L1353.3 279.7 L1355.2 279.1 L1357.2 278.4 L1359.1 277.8 L1361.0 277.3 L1363.0 276.7 L1364.9 276.1 L1366.9 275.6 L1368.8 275.1 L1370.8 274.5 L1372.7 274.0 L1374.7 273.6 L1376.6 273.1 L1390.4 270.0 L1404.3 267.4 L1418.1 265.2 L1432.0 263.2 L1445.8 261.5 L1459.7 260.0 L1473.5 258.7 L1487.4 257.5 L1501.2 256.4 L1515.1 255.4 L1528.9 254.5 L1542.7 253.7 L1556.6 252.9 L1570.4 252.3 L1584.3 251.6 L1598.1 251.0 L1612.0 250.5 L1625.8 250.0 L1639.7 249.5 L1653.5 249.0 L1667.4 248.6 L1681.2 248.2 L1695.1 247.9 L1708.9 247.5 L1722.7 247.2 L1736.6 246.9 L1750.4 246.6 L1764.3 246.3 L1778.1 246.0 L1792.0 245.8 L1805.8 245.5 L1819.7 245.3 L1833.5 245.1 L1847.4 244.9 L1861.2 244.7 L1875.0 244.5 L1888.9 244.3 L1902.7 244.1 L1916.6 243.9 L1930.4 243.8 L1944.3 243.6 L1958.1 243.5 L1972.0 243.3 L1985.8 243.2 L1999.7 243.0 L2013.5 242.9 L2027.4 242.8 L2041.2 242.7 L2055.0 242.5 L2068.9 242.4 L2082.7 242.3 L2096.6 242.2 L2110.4 242.1 L2124.3 242.0 L2138.1 241.9 L2152.0 241.8 L2165.8 241.7 L2179.7 241.6 L2193.5 241.5" fill="none" stroke="#000" stroke-width="9" stroke-linejoin="round"/></g>
<g clip-path="url(#cd)"><path d="M1829.3 1006.0L1894.9 633.0" stroke="#000" stroke-width="10.2" stroke-dasharray="24.3 24.3" stroke-linecap="square" fill="none"/></g>
<g clip-path="url(#ci)"><path fill="#5E81B5" shape-rendering="crispEdges" d="M1655.4 1004.9l8 -6.9 8 6.9 -8 6.9zM1667.9 1003.5l8 -6.9 8 6.9 -8 6.9zM1679.5 1001.7l8 -6.9 8 6.9 -8 6.9zM1691.7 999.9l8 -6.9 8 6.9 -8 6.9zM1703.7 997.3l8 -6.9 8 6.9 -8 6.9zM1715.8 995.5l8 -6.9 8 6.9 -8 6.9zM1727.8 991.9l8 -6.9 8 6.9 -8 6.9zM1739.8 988.9l8 -6.9 8 6.9 -8 6.9zM1751.9 985.6l8 -6.9 8 6.9 -8 6.9zM1763.9 980.8l8 -6.9 8 6.9 -8 6.9zM1776.1 974.9l8 -6.9 8 6.9 -8 6.9zM1787.7 967.8l8 -6.9 8 6.9 -8 6.9zM1799.3 959.7l8 -6.9 8 6.9 -8 6.9zM1811.8 948.1l8 -6.9 8 6.9 -8 6.9zM1820.8 932.0l8 -6.9 8 6.9 -8 6.9zM1839.2 907.3l8 -6.9 8 6.9 -8 6.9zM1839.6 887.3l8 -6.9 8 6.9 -8 6.9zM1851.2 822.9l8 -6.9 8 6.9 -8 6.9zM1853.9 817.6l8 -6.9 8 6.9 -8 6.9zM1595.0 1009.3l8 -6.9 8 6.9 -8 6.9zM1607.1 1008.7l8 -6.9 8 6.9 -8 6.9zM1619.1 1007.9l8 -6.9 8 6.9 -8 6.9zM1631.2 1007.1l8 -6.9 8 6.9 -8 6.9zM1643.2 1006.1l8 -6.9 8 6.9 -8 6.9zM1853.7 815.6l8 -6.9 8 6.9 -8 6.9zM1859.9 786.1l8 -6.9 8 6.9 -8 6.9zM1861.4 768.2l8 -6.9 8 6.9 -8 6.9zM1871.6 741.4l8 -6.9 8 6.9 -8 6.9zM1872.5 731.6l8 -6.9 8 6.9 -8 6.9zM1872.5 724.4l8 -6.9 8 6.9 -8 6.9zM1878.5 718.2l8 -6.9 8 6.9 -8 6.9zM1882.5 710.3l8 -6.9 8 6.9 -8 6.9zM1886.5 709.2l8 -6.9 8 6.9 -8 6.9zM1890.5 701.4l8 -6.9 8 6.9 -8 6.9zM1894.5 700.5l8 -6.9 8 6.9 -8 6.9zM1898.5 692.7l8 -6.9 8 6.9 -8 6.9zM1902.5 692.1l8 -6.9 8 6.9 -8 6.9zM1906.5 685.2l8 -6.9 8 6.9 -8 6.9zM1910.5 685.5l8 -6.9 8 6.9 -8 6.9zM1914.5 679.1l8 -6.9 8 6.9 -8 6.9zM1918.5 679.6l8 -6.9 8 6.9 -8 6.9zM1922.0 673.8l8 -6.9 8 6.9 -8 6.9zM1928.0 673.3l8 -6.9 8 6.9 -8 6.9zM1934.1 666.5l8 -6.9 8 6.9 -8 6.9zM1940.1 667.0l8 -6.9 8 6.9 -8 6.9zM1946.1 661.0l8 -6.9 8 6.9 -8 6.9zM1952.1 662.1l8 -6.9 8 6.9 -8 6.9zM1958.2 656.7l8 -6.9 8 6.9 -8 6.9zM1964.2 658.0l8 -6.9 8 6.9 -8 6.9zM1970.2 652.8l8 -6.9 8 6.9 -8 6.9zM1976.3 654.4l8 -6.9 8 6.9 -8 6.9zM1982.3 649.2l8 -6.9 8 6.9 -8 6.9zM1988.3 651.0l8 -6.9 8 6.9 -8 6.9zM1994.4 646.0l8 -6.9 8 6.9 -8 6.9zM2000.4 647.9l8 -6.9 8 6.9 -8 6.9zM2006.4 643.2l8 -6.9 8 6.9 -8 6.9zM2012.4 645.5l8 -6.9 8 6.9 -8 6.9zM2018.5 641.0l8 -6.9 8 6.9 -8 6.9zM2024.5 642.9l8 -6.9 8 6.9 -8 6.9zM2030.5 639.7l8 -6.9 8 6.9 -8 6.9zM2036.6 641.1l8 -6.9 8 6.9 -8 6.9zM2042.6 638.0l8 -6.9 8 6.9 -8 6.9zM2048.6 639.4l8 -6.9 8 6.9 -8 6.9zM2054.7 636.4l8 -6.9 8 6.9 -8 6.9zM2060.7 637.8l8 -6.9 8 6.9 -8 6.9zM2066.7 634.8l8 -6.9 8 6.9 -8 6.9zM2072.7 636.3l8 -6.9 8 6.9 -8 6.9zM2078.8 633.3l8 -6.9 8 6.9 -8 6.9zM2084.8 634.8l8 -6.9 8 6.9 -8 6.9zM2090.8 631.9l8 -6.9 8 6.9 -8 6.9zM2096.9 633.4l8 -6.9 8 6.9 -8 6.9zM2102.9 631.0l8 -6.9 8 6.9 -8 6.9zM2108.9 631.7l8 -6.9 8 6.9 -8 6.9zM2115.0 629.8l8 -6.9 8 6.9 -8 6.9zM2121.0 630.6l8 -6.9 8 6.9 -8 6.9zM2127.0 628.8l8 -6.9 8 6.9 -8 6.9zM2133.0 629.6l8 -6.9 8 6.9 -8 6.9zM2139.1 627.8l8 -6.9 8 6.9 -8 6.9zM2145.1 628.6l8 -6.9 8 6.9 -8 6.9zM2151.1 626.9l8 -6.9 8 6.9 -8 6.9zM2157.2 627.8l8 -6.9 8 6.9 -8 6.9zM2163.2 626.1l8 -6.9 8 6.9 -8 6.9z"/>
<g fill="none" stroke="#5E81B5" stroke-width="1.3" shape-rendering="crispEdges"><circle cx="1557.9" cy="963.3" r="6.7"/><circle cx="1569.5" cy="962.4" r="6.7"/><circle cx="1581.5" cy="961.9" r="6.7"/><circle cx="1593.3" cy="961.0" r="6.7"/><circle cx="1605.3" cy="959.7" r="6.7"/><circle cx="1616.5" cy="958.8" r="6.7"/><circle cx="1628.5" cy="957.7" r="6.7"/><circle cx="1640.1" cy="956.7" r="6.7"/><circle cx="1653.0" cy="956.1" r="6.7"/><circle cx="1665.2" cy="954.9" r="6.7"/><circle cx="1677.3" cy="952.9" r="6.7"/><circle cx="1689.3" cy="951.7" r="6.7"/><circle cx="1701.3" cy="949.9" r="6.7"/><circle cx="1713.1" cy="948.4" r="6.7"/><circle cx="1725.2" cy="946.7" r="6.7"/><circle cx="1737.2" cy="943.6" r="6.7"/><circle cx="1748.9" cy="941.8" r="6.7"/><circle cx="1761.2" cy="938.8" r="6.7"/><circle cx="1773.3" cy="935.6" r="6.7"/><circle cx="1785.5" cy="931.6" r="6.7"/><circle cx="1797.5" cy="926.6" r="6.7"/><circle cx="1809.6" cy="919.1" r="6.7"/><circle cx="1821.3" cy="911.4" r="6.7"/><circle cx="1830.6" cy="898.9" r="6.7"/><circle cx="1835.0" cy="892.7" r="6.7"/><circle cx="1847.9" cy="879.2" r="6.7"/><circle cx="1847.2" cy="871.2" r="6.7"/><circle cx="1847.4" cy="871.1" r="6.7"/><circle cx="1868.8" cy="788.8" r="6.7"/><circle cx="1869.4" cy="790.6" r="6.7"/><circle cx="1880.5" cy="758.4" r="6.7"/><circle cx="1878.7" cy="751.3" r="6.7"/><circle cx="1890.3" cy="742.3" r="6.7"/><circle cx="1902.8" cy="730.7" r="6.7"/><circle cx="1909.1" cy="728.0" r="6.7"/><circle cx="1912.7" cy="720.9" r="6.7"/><circle cx="1928.7" cy="715.5" r="6.7"/><circle cx="1931.4" cy="719.1" r="6.7"/><circle cx="1925.2" cy="714.6" r="6.7"/><circle cx="1943.0" cy="711.9" r="6.7"/><circle cx="1947.8" cy="710.0" r="6.7"/><circle cx="1954.9" cy="707.4" r="6.7"/><circle cx="1959.7" cy="705.8" r="6.7"/><circle cx="1966.8" cy="703.5" r="6.7"/><circle cx="1971.6" cy="702.2" r="6.7"/><circle cx="1978.7" cy="700.3" r="6.7"/><circle cx="1983.5" cy="699.2" r="6.7"/><circle cx="1990.6" cy="697.7" r="6.7"/><circle cx="1995.4" cy="696.8" r="6.7"/><circle cx="2002.5" cy="695.6" r="6.7"/><circle cx="2007.3" cy="694.8" r="6.7"/><circle cx="2014.4" cy="693.7" r="6.7"/><circle cx="2019.2" cy="693.0" r="6.7"/><circle cx="2026.3" cy="691.9" r="6.7"/><circle cx="2031.1" cy="691.1" r="6.7"/><circle cx="2038.2" cy="690.0" r="6.7"/><circle cx="2043.0" cy="689.3" r="6.7"/><circle cx="2050.1" cy="688.2" r="6.7"/><circle cx="2054.9" cy="687.6" r="6.7"/><circle cx="2062.0" cy="686.7" r="6.7"/><circle cx="2066.8" cy="686.2" r="6.7"/><circle cx="2073.9" cy="685.4" r="6.7"/><circle cx="2078.7" cy="684.9" r="6.7"/><circle cx="2085.8" cy="684.2" r="6.7"/><circle cx="2090.6" cy="683.8" r="6.7"/><circle cx="2097.7" cy="683.2" r="6.7"/><circle cx="2102.5" cy="682.8" r="6.7"/><circle cx="2109.6" cy="682.3" r="6.7"/><circle cx="2114.4" cy="682.0" r="6.7"/><circle cx="2121.5" cy="681.5" r="6.7"/><circle cx="2126.3" cy="681.3" r="6.7"/><circle cx="2133.4" cy="680.9" r="6.7"/><circle cx="2138.2" cy="680.7" r="6.7"/><circle cx="2145.3" cy="680.4" r="6.7"/><circle cx="2150.1" cy="680.2" r="6.7"/><circle cx="2157.2" cy="679.9" r="6.7"/><circle cx="2162.0" cy="679.8" r="6.7"/><circle cx="2169.1" cy="679.6" r="6.7"/><circle cx="2173.9" cy="679.4" r="6.7"/></g></g>
<g shape-rendering="crispEdges" fill="#000">
<path fill-rule="evenodd" d="M1558 631H2165V1008H1558ZM1562 635V1004H2161V635Z"/>
<path d="M1562 985h6v4h-6zM2155 985h6v4h-6zM1562 967h6v4h-6zM2155 967h6v4h-6zM1562 948h6v4h-6zM2155 948h6v4h-6zM1562 929h6v4h-6zM2155 929h6v4h-6zM1562 911h11v4h-11zM2150 911h11v4h-11zM1562 892h6v4h-6zM2155 892h6v4h-6zM1562 873h6v4h-6zM2155 873h6v4h-6zM1562 855h6v4h-6zM2155 855h6v4h-6zM1562 836h6v4h-6zM2155 836h6v4h-6zM1562 818h11v4h-11zM2150 818h11v4h-11zM1562 799h6v4h-6zM2155 799h6v4h-6zM1562 780h6v4h-6zM2155 780h6v4h-6zM1562 762h6v4h-6zM2155 762h6v4h-6zM1562 743h6v4h-6zM2155 743h6v4h-6zM1562 724h11v4h-11zM2150 724h11v4h-11zM1562 706h6v4h-6zM2155 706h6v4h-6zM1562 687h6v4h-6zM2155 687h6v4h-6zM1562 668h6v4h-6zM2155 668h6v4h-6zM1562 650h6v4h-6zM2155 650h6v4h-6zM1588 635h4v6h-4zM1588 998h4v6h-4zM1618 635h4v11h-4zM1618 993h4v11h-4zM1648 635h4v6h-4zM1648 998h4v6h-4zM1679 635h4v6h-4zM1679 998h4v6h-4zM1709 635h4v6h-4zM1709 998h4v6h-4zM1739 635h4v11h-4zM1739 993h4v11h-4zM1769 635h4v6h-4zM1769 998h4v6h-4zM1799 635h4v6h-4zM1799 998h4v6h-4zM1829 635h4v6h-4zM1829 998h4v6h-4zM1860 635h4v11h-4zM1860 993h4v11h-4zM1890 635h4v6h-4zM1890 998h4v6h-4zM1920 635h4v6h-4zM1920 998h4v6h-4zM1950 635h4v6h-4zM1950 998h4v6h-4zM1980 635h4v11h-4zM1980 993h4v11h-4zM2010 635h4v6h-4zM2010 998h4v6h-4zM2041 635h4v6h-4zM2041 998h4v6h-4zM2071 635h4v6h-4zM2071 998h4v6h-4zM2101 635h4v11h-4zM2101 993h4v11h-4zM2131 635h4v6h-4zM2131 998h4v6h-4z"/>
</g>
<g shape-rendering="crispEdges" fill="#000">
<path fill-rule="evenodd" d="M242 32H2200V1247H242ZM255 45V1234H2187V45Z"/>
<path d="M255 1191h8v13h-8zM2179 1191h8v13h-8zM255 1148h17v13h-17zM2170 1148h17v13h-17zM255 1105h8v13h-8zM2179 1105h8v13h-8zM255 1062h8v13h-8zM2179 1062h8v13h-8zM255 1019h8v13h-8zM2179 1019h8v13h-8zM255 976h17v13h-17zM2170 976h17v13h-17zM255 933h8v13h-8zM2179 933h8v13h-8zM255 891h8v13h-8zM2179 891h8v13h-8zM255 848h8v13h-8zM2179 848h8v13h-8zM255 805h17v13h-17zM2170 805h17v13h-17zM255 762h8v13h-8zM2179 762h8v13h-8zM255 719h8v13h-8zM2179 719h8v13h-8zM255 676h8v13h-8zM2179 676h8v13h-8zM255 633h17v13h-17zM2170 633h17v13h-17zM255 590h8v13h-8zM2179 590h8v13h-8zM255 547h8v13h-8zM2179 547h8v13h-8zM255 504h8v13h-8zM2179 504h8v13h-8zM255 461h17v13h-17zM2170 461h17v13h-17zM255 418h8v13h-8zM2179 418h8v13h-8zM255 375h8v13h-8zM2179 375h8v13h-8zM255 333h8v13h-8zM2179 333h8v13h-8zM255 290h17v13h-17zM2170 290h17v13h-17zM255 247h8v13h-8zM2179 247h8v13h-8zM255 204h8v13h-8zM2179 204h8v13h-8zM255 161h8v13h-8zM2179 161h8v13h-8zM255 118h17v13h-17zM2170 118h17v13h-17zM255 75h8v13h-8zM2179 75h8v13h-8zM339 45h13v8h-13zM339 1226h13v8h-13zM437 45h13v17h-13zM437 1217h13v17h-13zM534 45h13v8h-13zM534 1226h13v8h-13zM631 45h13v8h-13zM631 1226h13v8h-13zM728 45h13v8h-13zM728 1226h13v8h-13zM826 45h13v17h-13zM826 1217h13v17h-13zM923 45h13v8h-13zM923 1226h13v8h-13zM1020 45h13v8h-13zM1020 1226h13v8h-13zM1117 45h13v8h-13zM1117 1226h13v8h-13zM1215 45h13v17h-13zM1215 1217h13v17h-13zM1312 45h13v8h-13zM1312 1226h13v8h-13zM1409 45h13v8h-13zM1409 1226h13v8h-13zM1506 45h13v8h-13zM1506 1226h13v8h-13zM1604 45h13v17h-13zM1604 1217h13v17h-13zM1701 45h13v8h-13zM1701 1226h13v8h-13zM1798 45h13v8h-13zM1798 1226h13v8h-13zM1895 45h13v8h-13zM1895 1226h13v8h-13zM1993 45h13v17h-13zM1993 1217h13v17h-13zM2090 45h13v8h-13zM2090 1226h13v8h-13z"/>
</g>
<g stroke="#000" stroke-width="0.4">
<text transform="translate(229.5 154.958) scale(1 1.025)" font-size="85.5" text-anchor="end">6</text>
<text transform="translate(229.5 326.672) scale(1 1.025)" font-size="85.5" text-anchor="end">4</text>
<text transform="translate(229.5 498.386) scale(1 1.025)" font-size="85.5" text-anchor="end">2</text>
<text transform="translate(229.5 670.1) scale(1 1.025)" font-size="85.5" text-anchor="end">0</text>
<text transform="translate(229.5 841.814) scale(1 1.025)" font-size="85.5" text-anchor="end"><tspan dy="6.4">−</tspan><tspan dy="-6.4" dx="4.7">2</tspan></text>
<text transform="translate(229.5 1013.53) scale(1 1.025)" font-size="85.5" text-anchor="end"><tspan dy="6.4">−</tspan><tspan dy="-6.4" dx="4.7">4</tspan></text>
<text transform="translate(229.5 1185.24) scale(1 1.025)" font-size="85.5" text-anchor="end"><tspan dy="6.4">−</tspan><tspan dy="-6.4" dx="4.7">6</tspan></text>
<text transform="translate(442.4 1332) scale(1 1.025)" font-size="85.5" text-anchor="middle"><tspan dy="6.4">−</tspan><tspan dy="-6.4" dx="2.6">40</tspan></text>
<text transform="translate(831.4 1332) scale(1 1.025)" font-size="85.5" text-anchor="middle"><tspan dy="6.4">−</tspan><tspan dy="-6.4" dx="2.6">20</tspan></text>
<text transform="translate(1220.4 1332) scale(1 1.025)" font-size="85.5" text-anchor="middle">0</text>
<text transform="translate(1609.4 1332) scale(1 1.025)" font-size="85.5" text-anchor="middle">20</text>
<text transform="translate(1998.4 1332) scale(1 1.025)" font-size="85.5" text-anchor="middle">40</text>
<text transform="translate(1221 1454)" font-size="85.5" text-anchor="middle">Magnetic Field(k0e)</text>
<text transform="translate(78.3 832.5) rotate(-90)" font-size="85.5" text-anchor="start" dx="-4.3 4.3 0 0 0 5 -5 5">M(emu/g)</text>
<text transform="translate(1541.3 655.2) scale(1 1.04)" font-size="61" text-anchor="end">0.010</text>
<text transform="translate(1541.3 748.45) scale(1 1.04)" font-size="61" text-anchor="end">0.005</text>
<text transform="translate(1541.3 841.7) scale(1 1.04)" font-size="61" text-anchor="end">0.000</text>
<text transform="translate(1541.3 934.95) scale(1 1.04)" font-size="61" text-anchor="end"><tspan dy="4.6">−</tspan><tspan dy="-4.6" dx="1.8">0.005</tspan></text>
<text transform="translate(1541.3 1028.2) scale(1 1.04)" font-size="61" text-anchor="end"><tspan dy="4.6">−</tspan><tspan dy="-4.6" dx="1.8">0.010</tspan></text>
<text transform="translate(1620.32 1078.7) scale(1 1.04)" font-size="61" text-anchor="middle"><tspan dy="4.6">−</tspan><tspan dy="-4.6" dx="1.8">0.4</tspan></text>
<text transform="translate(1740.96 1078.7) scale(1 1.04)" font-size="61" text-anchor="middle"><tspan dy="4.6">−</tspan><tspan dy="-4.6" dx="1.8">0.2</tspan></text>
<text transform="translate(1861.6 1078.7) scale(1 1.04)" font-size="61" text-anchor="middle">0.0</text>
<text transform="translate(1982.24 1078.7) scale(1 1.04)" font-size="61" text-anchor="middle">0.2</text>
<text transform="translate(2102.88 1078.7) scale(1 1.04)" font-size="61" text-anchor="middle">0.4</text>
<text transform="translate(1862 1182.8) scale(1 1.02)" font-size="61" text-anchor="middle">H(T)</text>
<text transform="translate(1305 884.3) rotate(-90) scale(1 1.02)" font-size="61" text-anchor="start" dx="-10.5 7.5 -3.5 4">M(T)</text>
</g>
</svg></body></html>
